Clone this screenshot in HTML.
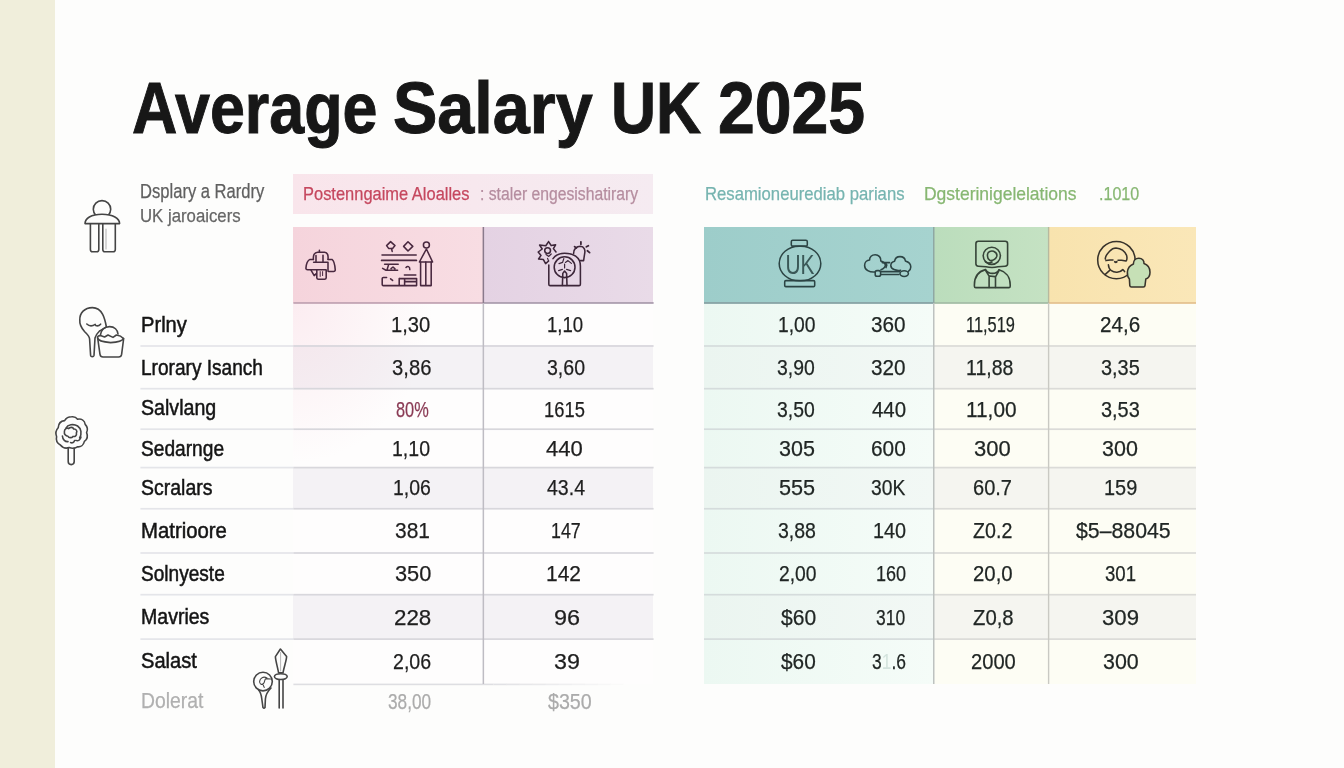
<!DOCTYPE html>
<html lang="en">
<head>
<meta charset="utf-8">
<title>Average Salary UK 2025</title>
<style>
html,body{margin:0;padding:0}
body{width:1344px;height:768px;overflow:hidden;position:relative;background:#fdfdfc;font-family:"Liberation Sans",sans-serif}
h1{margin:0;font:inherit}
.b{position:absolute}
.t{position:absolute;line-height:1;white-space:pre;transform-origin:0 0}
.ln{position:absolute;height:1.5px;background:#d6d9df}
svg.ic{position:absolute;left:0;top:0;width:1344px;height:768px;overflow:visible}
</style>
</head>
<body>
<!-- left beige strip -->
<div class="b" style="left:0;top:0;width:55px;height:768px;background:#f0eedb"></div>

<!-- left table backgrounds -->
<div class="b" style="left:293px;top:174px;width:360px;height:40px;background:linear-gradient(90deg,#f9e5eb,#f5ebf1)"></div>
<div class="b" style="left:293px;top:227px;width:190px;height:76px;background:linear-gradient(90deg,#f5d4dc,#f8dde3)"></div>
<div class="b" style="left:483px;top:227px;width:170px;height:76px;background:linear-gradient(90deg,#e4d2e3,#e9dbe8)"></div>
<div class="b" style="left:293px;top:303px;width:360px;height:381px;background:#fefdfd"></div>
<div class="b" style="left:293px;top:345px;width:360px;height:43px;background:#f4f2f5"></div>
<div class="b" style="left:293px;top:467px;width:360px;height:42px;background:#f4f2f5"></div>
<div class="b" style="left:293px;top:594px;width:360px;height:45px;background:#f4f2f5"></div>

<div class="b" style="left:293px;top:303px;width:190px;height:170px;background:radial-gradient(ellipse 140px 160px at 0 0,rgba(246,198,212,.3),rgba(246,198,212,0))"></div>

<!-- right table backgrounds -->
<div class="b" style="left:704px;top:227px;width:230px;height:76px;background:linear-gradient(90deg,#9dcdca,#a6d3cf)"></div>
<div class="b" style="left:934px;top:227px;width:115px;height:76px;background:linear-gradient(90deg,#bbddbc,#c5e2c3)"></div>
<div class="b" style="left:1049px;top:227px;width:147px;height:76px;background:linear-gradient(90deg,#f8e3ae,#fae7b8)"></div>
<div class="b" style="left:704px;top:303px;width:230px;height:381px;background:linear-gradient(90deg,#ecf8f2,#f5fcf8)"></div>
<div class="b" style="left:934px;top:303px;width:262px;height:381px;background:#fdfdf4"></div>
<div class="b" style="left:704px;top:345px;width:230px;height:43px;background:linear-gradient(90deg,#ebf5f0,#f2f8f5)"></div>
<div class="b" style="left:704px;top:467px;width:230px;height:42px;background:linear-gradient(90deg,#ebf5f0,#f2f8f5)"></div>
<div class="b" style="left:704px;top:594px;width:230px;height:45px;background:linear-gradient(90deg,#ebf5f0,#f2f8f5)"></div>
<div class="b" style="left:934px;top:345px;width:262px;height:43px;background:#f5f5f0"></div>
<div class="b" style="left:934px;top:467px;width:262px;height:42px;background:#f5f5f0"></div>
<div class="b" style="left:934px;top:594px;width:262px;height:45px;background:#f5f5f0"></div>

<!-- row lines -->
<svg class="ic" viewBox="0 0 1344 768">
<rect x="140.4" y="345.15" width="153" height="1.7" fill="#e4e5e9" />
<rect x="293.4" y="345.15" width="360.2" height="1.7" fill="#d8d7dc" />
<rect x="704" y="345.15" width="229.5" height="1.7" fill="#d5dcdc" />
<rect x="933.5" y="345.15" width="262.5" height="1.7" fill="#dbdbd8" />
<rect x="140.4" y="387.85" width="153" height="1.7" fill="#e4e5e9" />
<rect x="293.4" y="387.85" width="360.2" height="1.7" fill="#d8d7dc" />
<rect x="704" y="387.85" width="229.5" height="1.7" fill="#d5dcdc" />
<rect x="933.5" y="387.85" width="262.5" height="1.7" fill="#dbdbd8" />
<rect x="140.4" y="428.35" width="153" height="1.7" fill="#e4e5e9" />
<rect x="293.4" y="428.35" width="360.2" height="1.7" fill="#d8d7dc" />
<rect x="704" y="428.35" width="229.5" height="1.7" fill="#d5dcdc" />
<rect x="933.5" y="428.35" width="262.5" height="1.7" fill="#dbdbd8" />
<rect x="140.4" y="466.75" width="153" height="1.7" fill="#e4e5e9" />
<rect x="293.4" y="466.75" width="360.2" height="1.7" fill="#d8d7dc" />
<rect x="704" y="466.75" width="229.5" height="1.7" fill="#d5dcdc" />
<rect x="933.5" y="466.75" width="262.5" height="1.7" fill="#dbdbd8" />
<rect x="140.4" y="507.90" width="153" height="1.7" fill="#e4e5e9" />
<rect x="293.4" y="507.90" width="360.2" height="1.7" fill="#d8d7dc" />
<rect x="704" y="507.90" width="229.5" height="1.7" fill="#d5dcdc" />
<rect x="933.5" y="507.90" width="262.5" height="1.7" fill="#dbdbd8" />
<rect x="140.4" y="552.15" width="153" height="1.7" fill="#e4e5e9" />
<rect x="293.4" y="552.15" width="360.2" height="1.7" fill="#d8d7dc" />
<rect x="704" y="552.15" width="229.5" height="1.7" fill="#d5dcdc" />
<rect x="933.5" y="552.15" width="262.5" height="1.7" fill="#dbdbd8" />
<rect x="140.4" y="593.85" width="153" height="1.7" fill="#e4e5e9" />
<rect x="293.4" y="593.85" width="360.2" height="1.7" fill="#d8d7dc" />
<rect x="704" y="593.85" width="229.5" height="1.7" fill="#d5dcdc" />
<rect x="933.5" y="593.85" width="262.5" height="1.7" fill="#dbdbd8" />
<rect x="140.4" y="638.25" width="153" height="1.7" fill="#e4e5e9" />
<rect x="293.4" y="638.25" width="360.2" height="1.7" fill="#d8d7dc" />
<rect x="704" y="638.25" width="229.5" height="1.7" fill="#d5dcdc" />
<rect x="933.5" y="638.25" width="262.5" height="1.7" fill="#dbdbd8" />
<rect x="293.4" y="683.60" width="200" height="1.6" fill="#dedee2" />
<rect x="493.4" y="683.60" width="13.2" height="1.6" fill="#dedee2" opacity="0.91"/>
<rect x="506.4" y="683.60" width="13.2" height="1.6" fill="#dedee2" opacity="0.82"/>
<rect x="519.4" y="683.60" width="13.2" height="1.6" fill="#dedee2" opacity="0.73"/>
<rect x="532.4" y="683.60" width="13.2" height="1.6" fill="#dedee2" opacity="0.64"/>
<rect x="545.4" y="683.60" width="13.2" height="1.6" fill="#dedee2" opacity="0.55"/>
<rect x="558.4" y="683.60" width="13.2" height="1.6" fill="#dedee2" opacity="0.45"/>
<rect x="571.4" y="683.60" width="13.2" height="1.6" fill="#dedee2" opacity="0.36"/>
<rect x="584.4" y="683.60" width="13.2" height="1.6" fill="#dedee2" opacity="0.27"/>
<rect x="597.4" y="683.60" width="13.2" height="1.6" fill="#dedee2" opacity="0.18"/>
<rect x="610.4" y="683.60" width="13.2" height="1.6" fill="#dedee2" opacity="0.09"/>
<rect x="293.4" y="302.00" width="189.6" height="1.9" fill="#c6a8b7" />
<rect x="483" y="302.00" width="170.6" height="1.9" fill="#b0a2b3" />
<rect x="704" y="302.00" width="229.5" height="1.9" fill="#8aa6a8" />
<rect x="933.5" y="302.00" width="115" height="1.9" fill="#a7c0a9" />
<rect x="1048.5" y="302.00" width="147.5" height="1.9" fill="#e6c594" />
<rect x="482.6" y="227.00" width="1.5" height="76" fill="#8a7a8c" />
<rect x="482.6" y="303.00" width="1.5" height="381" fill="#bebcc3" />
<rect x="933.0" y="227.00" width="1.5" height="76" fill="#8fa8a3" />
<rect x="933.0" y="303.00" width="1.5" height="381" fill="#bdc2c0" />
<rect x="1047.9" y="227.00" width="1.4" height="76" fill="#b7b99f" />
<rect x="1047.9" y="303.00" width="1.4" height="381" fill="#c9c9c3" />
</svg>

<svg class="ic" viewBox="0 0 1344 768" fill="none" stroke-linecap="round" stroke-linejoin="round">
<!-- person (caption) -->
<g stroke="#444" stroke-width="1.6">
<circle cx="102" cy="209.3" r="8.7"/>
<path d="M85 223.6 C85 218.5 91 214.3 102 214.3 C113 214.3 119.6 218.5 119.6 223.6 Z" fill="#fdfdfc"/>
<path d="M90.4 223.8 V249.5 Q90.4 251.8 92.6 251.8 H96.6 Q98.8 251.8 98.8 249.5 V223.8"/>
<path d="M102.8 223.8 V249.5 Q102.8 251.8 105 251.8 H113 Q115.3 251.8 115.3 249.5 V223.8"/>
<path d="M106 229 V249" stroke="#bdbdbd" stroke-width="1.2"/>
</g>
<!-- balloon + cup -->
<g stroke="#454545" stroke-width="1.6">
<path d="M92.4 307.6 C84.5 307.6 79.6 313 79.8 320 C79.4 324.5 81 327.5 84.5 331.5 C87.5 334.5 89.4 336 89.6 339 L90.6 355.4 Q90.8 356.6 92.2 356.6 Q93.8 356.6 94 355.4 L95 338 C95.6 335 97.5 333 99.5 331 C103 329 105 327.5 106.4 327 C105 319 102.5 307.6 92.4 307.6 Z"/>
<path d="M86.8 324 Q90.5 327.4 95.2 324.4 M95.8 325.6 Q98.4 326.6 100.6 324.2"/>
<path d="M100.4 335.2 C101 330 104.5 326.6 109.6 326.6 C114.5 326.6 117.6 329.8 118 334"/>
<path d="M97.6 338 Q97.4 335.6 100.4 335.6 L104.6 337 L108 335 L113 337.4 L116.4 335 Q121 335.6 123.4 338.4"/>
<path d="M97.6 338 Q98.2 341.6 110.6 342.6 Q122 342 123.6 338.4"/>
<path d="M97.8 339 L100 354.4 Q100.4 357 103 357 H118.6 Q121.2 357 121.6 354.4 L123.6 339"/>
</g>
<!-- tree -->
<g stroke="#454545" stroke-width="1.6">
<path d="M71.6 416.8 C74.5 416.4 76.4 417.6 77.6 419.2 C81.6 418.6 84.6 420.8 85.2 424.4 C87.4 426.8 87.8 430.2 86.6 432.6 C88 436 87 439.6 84.4 441.4 C83.6 445 80.6 447.2 77.4 446.8 C75 448.4 71.4 448.4 69.2 447.6 C66 448.6 62.4 447.6 60.4 445 C57.4 443.4 55.8 440 56.6 436.8 C55.4 433.6 56 430 58.2 427.8 C58.4 424 60.8 421 64.6 420.6 C66.2 418 68.8 416.8 71.6 416.8 Z"/>
<path d="M68.2 448 V461.6 Q68.2 464.6 71.2 464.6 Q74.2 464.6 74.2 461.6 V448"/>
<path d="M66 428 C67.6 424.6 73.4 423.4 77.6 426 C81.4 428.6 82 434 79.6 438 M62.4 436 C62.6 439.6 65.4 442 68 441.6 M70.6 442.6 C72.4 443.4 74 442.4 74.6 440.6 M76 440.4 C78 441.4 80.6 439.6 81 437" />
<path d="M64.4 431.6 C64.4 428.8 67 427.4 68.8 428.6 C69.8 427 73 426.8 73.6 429 C76 428.6 77.6 431 76.4 433 C77 435.4 75 437 73 436.4 C71.6 438.2 68.8 438 68 436.2 C65.6 436.2 64 434 64.4 431.6 Z"/>
</g>
<!-- pin + spear -->
<g stroke="#454545" stroke-width="1.6">
<circle cx="263" cy="681.6" r="9.3"/>
<path d="M258.6 690 C260.4 692 261.4 695 261.8 699 L263 707.6 Q264 708.8 265 707.6 L265.4 699 C265.6 695 266.6 692.4 271 688"/>
<path d="M267 678 C263.4 676 260 678 259.6 681.4 C259.4 684.2 262 685.4 263.6 683.4 C265 681.6 264.4 679 266 678.6 L270.6 679 M262.8 684 L264.2 687.4" stroke-width="1.1"/>
<path d="M280.4 649 L275.4 656.6 C275.4 660 277.4 666.4 278.6 672.8 H283 C284.2 666.4 286.6 660 286.6 656.6 Z"/>
<path d="M280.6 652.4 V671" stroke="#b5b5b5" stroke-width="1"/>
<ellipse cx="280.8" cy="676.6" rx="6.4" ry="2.9"/>
<path d="M279.2 680.4 V708 M283 680.4 V708"/>
</g>

<!-- header icon A: printer cross -->
<g stroke="#48283f" stroke-width="1.55">
<path d="M319.4 250.2 V252.2 M313.4 259.4 C313 255 314.6 252.4 317.6 252.2 H324.6 C327.6 252.4 328.4 255.4 328 259.4"/>
<path d="M316 261.6 V255.4 M323 261.6 V255.2"/>
<path d="M313.4 259.4 H310 C307.4 260.4 306.2 264.4 305.9 268.4 Q306 269.8 307.6 269.8 H326"/>
<path d="M313.6 262.2 H328 V271.2 M328.2 259.4 H332 C334 260.6 335 266 335.3 270.2 Q335 271.5 333.6 271.5 H328.4"/>
<path d="M311 270.2 L314.2 275.6 L316.6 273.4 M316.8 270.2 V277.8 Q317 279.2 318.4 279.2 H324.6 Q326 279.2 326.2 277.8 V270.2"/>
<path d="M320.2 271.6 V276.4 M322.6 271.6 V275.6" stroke-width="1"/>
</g>
<!-- header icon B: shelves + tower -->
<g stroke="#48283f" stroke-width="1.55">
<path d="M390.6 241.6 L395 245.6 L392.6 248.4 H388.6 L386.6 245.6 Z M391.4 248.4 L392.2 251.4"/>
<path d="M408 241.8 L412.8 246.4 L408 251 L403.6 246.4 Z"/>
<circle cx="426.4" cy="244.9" r="3"/>
<path d="M426.4 249 L432.6 262 H419.4 Z"/>
<path d="M420.6 262 V285.6 H431.2 V262 M425.8 262 V285.6"/>
<path d="M382 254.9 H416.2"/>
<path d="M381.6 260.4 H416.4" stroke-width="1.7"/>
<path d="M384.6 264.2 H398.2 M382.6 268.4 L386 270.2 H397.6 M388.6 264.6 L387 270 M391 268.6 L393 267 L395 268.8"/>
<path d="M406 267.4 C407.6 265.6 410 266.4 409.8 269.6" />
<path d="M386.6 277.4 H383.4 Q382.2 277.4 382.2 278.6 V284.4 Q382.2 285.6 383.4 285.6 H416.6 V278.6 H399.4 M399.2 278.6 V285.4 M404.4 275 H415.8 M405.4 281.6 H415.6 M404.6 279 V285.4"/>
<path d="M390.6 278.8 L392.6 280.4" />
</g>
<!-- header icon C: sun, arch-tree, bulb -->
<g stroke="#3c2639" stroke-width="1.55">
<path d="M548.8 265 V284.2 Q548.8 285.6 550.2 285.6 H579 Q580.4 285.6 580.4 284.2 V266 C580.4 257 573 253.2 564.6 253.2 C559.4 253.2 555.4 255.2 553 258.6"/>
<circle cx="564.6" cy="267.2" r="10.4"/>
<path d="M562.4 285.4 L562.8 273.4 L564.6 271 L566.6 273.4 L567 285.4"/>
<path d="M559 263.6 L562.6 262.4 L563.8 258.6 M565.4 262.4 L568 260.6 L571.4 263.4 M558.6 270.6 L562.4 269.4 M566.6 269.4 L570.6 270.6 M564.6 264 V268" stroke-width="1.2"/>
<path d="M548.6 241.6 L551.2 245.6 L555.6 244.8 L553.4 248.6 L556 252 M548.6 241.6 L545.8 245.8 L539.6 245 L542.2 249 L538.2 252 L541 255.4 L538.6 259 L543.4 259.6 L545.6 263.6 L548.6 261"/>
<circle cx="547.6" cy="250.6" r="2.9"/>
<path d="M546 254.6 L548.8 256.4 L551.2 254 M547.6 258.4 L548.4 260.6" stroke-width="1.2"/>
<path d="M573.6 253.4 C573.6 249 576.6 246.2 580.4 246.2 C584 246.400 585.600 249.600 584.600 254.000 L583.6 260.6 H580.4"/>
<path d="M574.6 246.6 L576.4 248 M580.900 241.800 V244.2 M586.4 246.8 L588.4 245.8 M587.4 250.8 L589.6 252.6" stroke-width="1.8"/>
</g>
<!-- header icon D: jar -->
<g stroke="#2c4444" stroke-width="1.55">
<rect x="791.3" y="240.3" width="16" height="5.8" rx="1.4"/>
<rect x="779.2" y="246.2" width="41.6" height="34.6" rx="20" ry="17.3"/>
<rect x="784.7" y="280.6" width="30" height="6" rx="1.2"/>
</g>
<text x="785.4" y="273.6" font-family="'Liberation Sans',sans-serif" font-size="28" fill="#2f4a4a" fill-opacity="0.9" textLength="29" lengthAdjust="spacingAndGlyphs">UK</text>
<!-- header icon E: clouds -->
<g stroke="#2c4444" stroke-width="1.55">
<path d="M875 272 C869.6 272.6 864.6 270 864.6 265.4 C864.6 262.2 867 260.200 869.600 260.000 C869.400 257.000 871.800 254.800 875.200 254.800 C878.800 254.800 881.200 257.600 880.800 261.000 C883.000 261.600 885.000 263.000 885.400 265.200 C885.200 267.000 883.600 268.800 881.000 269.800"/>
<path d="M900.600 270.200 C896.000 271.000 891.000 269.200 890.800 265.600 C890.800 263.200 892.600 261.600 894.600 261.200 C895.000 258.600 897.200 256.600 900.000 256.600 C903.000 256.600 905.000 258.400 905.400 261.000 C908.600 262.000 910.800 264.400 910.800 267.000 C910.800 269.000 909.800 270.400 908.400 271.400"/>
<path d="M882.200 262.600 H889.600 M885.400 263.200 L886.800 265.000 L886.000 267.600" />
<rect x="875.200" y="270.600" width="5.400" height="5.600" rx="1.800"/>
<path d="M880.600 271.600 H899.600 M881.000 274.400 H899.000"/>
<ellipse cx="904.200" cy="273.600" rx="4.200" ry="2.800"/>
</g>
<!-- header icon F: monitor person -->
<g stroke="#364438" stroke-width="1.6">
<path d="M978.4 241.300 H1005.200 Q1007.600 241.300 1007.600 243.700 V264.000 Q1007.600 266.000 1005.000 266.200 L998.000 266.800 Q992.000 268.200 986.000 266.800 L978.400 266.200 Q975.900 266.000 975.900 263.800 V243.700 Q975.900 241.300 978.400 241.300 Z"/>
<circle cx="991.800" cy="255.800" r="8.600"/>
<path d="M987.600 254.000 C988.000 251.400 991.000 250.600 993.600 251.200 C996.000 252.200 997.400 254.400 996.600 256.800 C995.600 259.400 992.600 260.600 989.800 260.400 C988.000 259.200 987.200 256.400 987.600 254.000 Z M985.400 261.600 C987.400 263.000 990.000 263.400 992.000 262.000"/>
<path d="M985.400 269.600 C979.000 271.200 974.400 276.400 974.400 285.000 V286.200 Q974.400 287.600 975.800 287.600 H1008.800 Q1010.200 287.600 1010.200 286.200 V285.000 C1010.200 277.000 1005.600 271.600 999.000 269.800"/>
<path d="M985.600 269.600 C987.000 272.000 989.600 273.400 992.400 273.400 C995.400 273.400 998.000 272.000 999.000 269.800 M985.800 270.800 L989.100 276.200 V287.400 M999.000 270.600 L995.500 276.800 V287.400 M989.400 276.000 L995.200 276.600"/>
</g>
<!-- header icon G: face circle + figure -->
<g stroke="#38332b" stroke-width="1.55">
<circle cx="1116.400" cy="260.100" r="18.700"/>
<path d="M1105.400 259.000 C1104.600 256.600 1107.000 254.000 1109.600 251.200 C1112.000 248.600 1114.200 248.000 1116.000 248.000 C1121.000 248.400 1125.000 251.600 1126.600 255.400 C1127.200 257.600 1127.000 259.400 1126.400 260.600 M1106.000 260.600 L1110.000 260.000 H1113.000 M1118.000 260.200 H1121.600 L1126.000 261.000"/>
<path d="M1108.400 264.800 C1108.600 267.000 1109.400 269.400 1111.000 270.400 C1114.600 273.200 1119.600 273.000 1122.800 269.600 L1124.600 271.600 M1109.400 270.600 L1105.000 274.600"/>
<path d="M1114.800 261.800 Q1115.800 262.600 1116.800 261.800" stroke-width="1.8"/>
<path d="M1133.400 264.000 C1133.400 260.600 1135.600 258.200 1138.800 258.200 C1142.200 258.200 1144.200 260.400 1144.000 263.600 C1147.400 264.800 1150.000 267.800 1150.000 272.200 C1150.000 275.800 1148.400 278.200 1145.800 279.000 L1145.000 285.600 Q1144.800 287.000 1143.400 287.000 H1131.400 Q1130.000 287.000 1129.800 285.600 L1129.400 279.000 C1127.600 277.000 1127.200 274.600 1127.400 272.000 C1127.800 267.800 1130.400 265.200 1133.400 264.000 Z" fill="#c6e0b6"/>
</g>
</svg>


<h1>
<span class="t title" style="left:131.85px;top:72px;font-size:72.17px;font-weight:700;color:#171717;transform:scaleX(0.8698);-webkit-text-stroke:1.0px #171717;">Average</span>
<span class="t title" style="left:392.59px;top:72px;font-size:72.17px;font-weight:700;color:#171717;transform:scaleX(0.9219);-webkit-text-stroke:1.0px #171717;">Salary</span>
<span class="t title" style="left:610.79px;top:72px;font-size:72.17px;font-weight:700;color:#171717;transform:scaleX(0.8654);-webkit-text-stroke:1.0px #171717;">UK</span>
<span class="t title" style="left:717.67px;top:72px;font-size:72.17px;font-weight:700;color:#171717;transform:scaleX(0.9166);-webkit-text-stroke:1.0px #171717;">2025</span>
</h1>
<div class="cells">
<span class="t " style="left:139.60px;top:182px;font-size:19.71px;font-weight:400;color:#606060;transform:scaleX(0.8420);-webkit-text-stroke:0.25px #606060;">Dsplary a Rardry</span>
<span class="t " style="left:139.65px;top:206px;font-size:19.13px;font-weight:400;color:#666;transform:scaleX(0.8770);-webkit-text-stroke:0.25px #666;">UK jaroaicers</span>
<span class="t " style="left:302.99px;top:186px;font-size:17.83px;font-weight:400;color:#c5475e;transform:scaleX(0.9229);-webkit-text-stroke:0.25px #c5475e;">Postenngaime Aloalles</span>
<span class="t " style="left:480.14px;top:186px;font-size:17.54px;font-weight:400;color:#b58d9f;transform:scaleX(0.8961);-webkit-text-stroke:0.25px #b58d9f;">: staler engesishatirary</span>
<span class="t " style="left:705.19px;top:185px;font-size:18.55px;font-weight:400;color:#76b4b0;transform:scaleX(0.9008);-webkit-text-stroke:0.25px #76b4b0;">Resamioneurediab parians</span>
<span class="t " style="left:923.63px;top:185px;font-size:18.55px;font-weight:400;color:#87b772;transform:scaleX(0.9429);-webkit-text-stroke:0.25px #87b772;">Dgsterinigelelations</span>
<span class="t " style="left:1099.10px;top:185px;font-size:18.26px;font-weight:400;color:#87b772;transform:scaleX(0.8795);-webkit-text-stroke:0.25px #87b772;">.1010</span>
<span class="t lab" style="left:140.89px;top:314px;font-size:21.59px;font-weight:400;color:#141414;transform:scaleX(0.9331);-webkit-text-stroke:0.5px #141414;">Prlny</span>
<span class="t lab" style="left:140.96px;top:357px;font-size:21.59px;font-weight:400;color:#141414;transform:scaleX(0.8839);-webkit-text-stroke:0.5px #141414;">Lrorary Isanch</span>
<span class="t lab" style="left:141.43px;top:397px;font-size:21.59px;font-weight:400;color:#141414;transform:scaleX(0.9095);-webkit-text-stroke:0.5px #141414;">Salvlang</span>
<span class="t lab" style="left:141.44px;top:438px;font-size:21.59px;font-weight:400;color:#141414;transform:scaleX(0.8873);-webkit-text-stroke:0.5px #141414;">Sedarnge</span>
<span class="t lab" style="left:141.43px;top:477px;font-size:21.59px;font-weight:400;color:#141414;transform:scaleX(0.9031);-webkit-text-stroke:0.5px #141414;">Scralars</span>
<span class="t lab" style="left:140.88px;top:520px;font-size:21.59px;font-weight:400;color:#141414;transform:scaleX(0.9424);-webkit-text-stroke:0.5px #141414;">Matrioore</span>
<span class="t lab" style="left:141.45px;top:563px;font-size:21.59px;font-weight:400;color:#141414;transform:scaleX(0.8841);-webkit-text-stroke:0.5px #141414;">Solnyeste</span>
<span class="t lab" style="left:140.93px;top:606px;font-size:21.59px;font-weight:400;color:#141414;transform:scaleX(0.9054);-webkit-text-stroke:0.5px #141414;">Mavries</span>
<span class="t lab" style="left:141.41px;top:650px;font-size:21.59px;font-weight:400;color:#141414;transform:scaleX(0.9318);-webkit-text-stroke:0.5px #141414;">Salast</span>
<span class="t " style="left:140.80px;top:690px;font-size:21.16px;font-weight:400;color:#b0b0b0;transform:scaleX(0.9152);-webkit-text-stroke:0.25px #b0b0b0;">Dolerat</span>
<span class="t " style="left:391.32px;top:313px;font-size:22.9px;font-weight:400;color:#1e1e1e;transform:scaleX(0.8812);-webkit-text-stroke:0.25px #1e1e1e;">1,30</span>
<span class="t " style="left:391.88px;top:356px;font-size:22.9px;font-weight:400;color:#1e1e1e;transform:scaleX(0.8845);-webkit-text-stroke:0.25px #1e1e1e;">3,86</span>
<span class="t " style="left:395.54px;top:398px;font-size:22.9px;font-weight:400;color:#8a3b55;transform:scaleX(0.7152);-webkit-text-stroke:0.25px #8a3b55;">80%</span>
<span class="t " style="left:391.97px;top:437px;font-size:22.9px;font-weight:400;color:#1e1e1e;transform:scaleX(0.8527);-webkit-text-stroke:0.25px #1e1e1e;">1,10</span>
<span class="t " style="left:392.77px;top:476px;font-size:22.9px;font-weight:400;color:#1e1e1e;transform:scaleX(0.8502);-webkit-text-stroke:0.25px #1e1e1e;">1,06</span>
<span class="t " style="left:394.75px;top:519px;font-size:22.9px;font-weight:400;color:#1e1e1e;transform:scaleX(0.9150);-webkit-text-stroke:0.25px #1e1e1e;">381</span>
<span class="t " style="left:394.72px;top:562px;font-size:22.9px;font-weight:400;color:#1e1e1e;transform:scaleX(0.9521);-webkit-text-stroke:0.25px #1e1e1e;">350</span>
<span class="t " style="left:393.90px;top:606px;font-size:22.9px;font-weight:400;color:#1e1e1e;transform:scaleX(0.9764);-webkit-text-stroke:0.25px #1e1e1e;">228</span>
<span class="t " style="left:393.13px;top:650px;font-size:22.9px;font-weight:400;color:#1e1e1e;transform:scaleX(0.8557);-webkit-text-stroke:0.25px #1e1e1e;">2,06</span>
<span class="t " style="left:546.63px;top:313px;font-size:22.9px;font-weight:400;color:#1e1e1e;transform:scaleX(0.8123);-webkit-text-stroke:0.25px #1e1e1e;">1,10</span>
<span class="t " style="left:546.51px;top:356px;font-size:22.9px;font-weight:400;color:#1e1e1e;transform:scaleX(0.8541);-webkit-text-stroke:0.25px #1e1e1e;">3,60</span>
<span class="t " style="left:543.65px;top:398px;font-size:22.9px;font-weight:400;color:#1e1e1e;transform:scaleX(0.8019);-webkit-text-stroke:0.25px #1e1e1e;">1615</span>
<span class="t " style="left:546.01px;top:437px;font-size:22.9px;font-weight:400;color:#1e1e1e;transform:scaleX(0.9628);-webkit-text-stroke:0.25px #1e1e1e;">440</span>
<span class="t " style="left:546.96px;top:476px;font-size:22.9px;font-weight:400;color:#1e1e1e;transform:scaleX(0.8533);-webkit-text-stroke:0.25px #1e1e1e;">43.4</span>
<span class="t " style="left:550.98px;top:519px;font-size:22.9px;font-weight:400;color:#1e1e1e;transform:scaleX(0.7786);-webkit-text-stroke:0.25px #1e1e1e;">147</span>
<span class="t " style="left:546.47px;top:562px;font-size:22.9px;font-weight:400;color:#1e1e1e;transform:scaleX(0.9158);-webkit-text-stroke:0.25px #1e1e1e;">142</span>
<span class="t " style="left:553.96px;top:606px;font-size:22.9px;font-weight:400;color:#1e1e1e;transform:scaleX(1.0241);-webkit-text-stroke:0.25px #1e1e1e;">96</span>
<span class="t " style="left:554.15px;top:650px;font-size:22.9px;font-weight:400;color:#1e1e1e;transform:scaleX(1.0181);-webkit-text-stroke:0.25px #1e1e1e;">39</span>
<span class="t " style="left:388.29px;top:691px;font-size:22.03px;font-weight:400;color:#ababab;transform:scaleX(0.7827);-webkit-text-stroke:0.25px #ababab;">38,00</span>
<span class="t " style="left:547.65px;top:691px;font-size:22.03px;font-weight:400;color:#ababab;transform:scaleX(0.8931);-webkit-text-stroke:0.25px #ababab;">$350</span>
<span class="t " style="left:777.58px;top:313px;font-size:22.9px;font-weight:400;color:#202624;transform:scaleX(0.8432);-webkit-text-stroke:0.25px #202624;">1,00</span>
<span class="t " style="left:777.41px;top:356px;font-size:22.9px;font-weight:400;color:#202624;transform:scaleX(0.8471);-webkit-text-stroke:0.25px #202624;">3,90</span>
<span class="t " style="left:777.41px;top:398px;font-size:22.9px;font-weight:400;color:#202624;transform:scaleX(0.8471);-webkit-text-stroke:0.25px #202624;">3,50</span>
<span class="t " style="left:779.23px;top:437px;font-size:22.9px;font-weight:400;color:#202624;transform:scaleX(0.9401);-webkit-text-stroke:0.25px #202624;">305</span>
<span class="t " style="left:778.98px;top:476px;font-size:22.9px;font-weight:400;color:#202624;transform:scaleX(0.9467);-webkit-text-stroke:0.25px #202624;">555</span>
<span class="t " style="left:778.11px;top:519px;font-size:22.9px;font-weight:400;color:#202624;transform:scaleX(0.8513);-webkit-text-stroke:0.25px #202624;">3,88</span>
<span class="t " style="left:778.65px;top:562px;font-size:22.9px;font-weight:400;color:#202624;transform:scaleX(0.8417);-webkit-text-stroke:0.25px #202624;">2,00</span>
<span class="t " style="left:780.94px;top:606px;font-size:22.9px;font-weight:400;color:#202624;transform:scaleX(0.9195);-webkit-text-stroke:0.25px #202624;">$60</span>
<span class="t " style="left:781.34px;top:650px;font-size:22.9px;font-weight:400;color:#202624;transform:scaleX(0.9088);-webkit-text-stroke:0.25px #202624;">$60</span>
<span class="t " style="left:871.06px;top:313px;font-size:22.9px;font-weight:400;color:#202624;transform:scaleX(0.9056);-webkit-text-stroke:0.25px #202624;">360</span>
<span class="t " style="left:871.06px;top:356px;font-size:22.9px;font-weight:400;color:#202624;transform:scaleX(0.9056);-webkit-text-stroke:0.25px #202624;">320</span>
<span class="t " style="left:871.54px;top:398px;font-size:22.9px;font-weight:400;color:#202624;transform:scaleX(0.8927);-webkit-text-stroke:0.25px #202624;">440</span>
<span class="t " style="left:870.84px;top:437px;font-size:22.9px;font-weight:400;color:#202624;transform:scaleX(0.9115);-webkit-text-stroke:0.25px #202624;">600</span>
<span class="t " style="left:871.12px;top:476px;font-size:22.9px;font-weight:400;color:#202624;transform:scaleX(0.8426);-webkit-text-stroke:0.25px #202624;">30K</span>
<span class="t " style="left:872.55px;top:519px;font-size:22.9px;font-weight:400;color:#202624;transform:scaleX(0.8659);-webkit-text-stroke:0.25px #202624;">140</span>
<span class="t " style="left:875.87px;top:562px;font-size:22.9px;font-weight:400;color:#202624;transform:scaleX(0.7879);-webkit-text-stroke:0.25px #202624;">160</span>
<span class="t " style="left:876.39px;top:606px;font-size:22.9px;font-weight:400;color:#202624;transform:scaleX(0.7634);-webkit-text-stroke:0.25px #202624;">310</span>
<span class="t " style="left:872.19px;top:650px;font-size:22.9px;font-weight:400;color:#202624;transform:scaleX(0.7625);-webkit-text-stroke:0.25px #202624;">3<span style="color:#d3e3dd;-webkit-text-stroke:0">1</span>.6</span>
<span class="t " style="left:966.48px;top:313px;font-size:22.9px;font-weight:400;color:#202624;transform:scaleX(0.7164);-webkit-text-stroke:0.25px #202624;">11,519</span>
<span class="t " style="left:966.27px;top:356px;font-size:22.9px;font-weight:400;color:#202624;transform:scaleX(0.8508);-webkit-text-stroke:0.25px #202624;">11,88</span>
<span class="t " style="left:966.18px;top:398px;font-size:22.9px;font-weight:400;color:#202624;transform:scaleX(0.9096);-webkit-text-stroke:0.25px #202624;">11,00</span>
<span class="t " style="left:973.51px;top:437px;font-size:22.9px;font-weight:400;color:#202624;transform:scaleX(0.9604);-webkit-text-stroke:0.25px #202624;">300</span>
<span class="t " style="left:972.58px;top:476px;font-size:22.9px;font-weight:400;color:#202624;transform:scaleX(0.8757);-webkit-text-stroke:0.25px #202624;">60.7</span>
<span class="t " style="left:973.14px;top:519px;font-size:22.9px;font-weight:400;color:#202624;transform:scaleX(0.8588);-webkit-text-stroke:0.25px #202624;">Z0.2</span>
<span class="t " style="left:972.59px;top:562px;font-size:22.9px;font-weight:400;color:#202624;transform:scaleX(0.8911);-webkit-text-stroke:0.25px #202624;">20,0</span>
<span class="t " style="left:972.92px;top:606px;font-size:22.9px;font-weight:400;color:#202624;transform:scaleX(0.8867);-webkit-text-stroke:0.25px #202624;">Z0,8</span>
<span class="t " style="left:971.41px;top:650px;font-size:22.9px;font-weight:400;color:#202624;transform:scaleX(0.8798);-webkit-text-stroke:0.25px #202624;">2000</span>
<span class="t " style="left:1100.18px;top:313px;font-size:22.9px;font-weight:400;color:#202624;transform:scaleX(0.9028);-webkit-text-stroke:0.25px #202624;">24,6</span>
<span class="t " style="left:1101.19px;top:356px;font-size:22.9px;font-weight:400;color:#202624;transform:scaleX(0.8697);-webkit-text-stroke:0.25px #202624;">3,35</span>
<span class="t " style="left:1101.19px;top:398px;font-size:22.9px;font-weight:400;color:#202624;transform:scaleX(0.8703);-webkit-text-stroke:0.25px #202624;">3,53</span>
<span class="t " style="left:1102.33px;top:437px;font-size:22.9px;font-weight:400;color:#202624;transform:scaleX(0.9385);-webkit-text-stroke:0.25px #202624;">300</span>
<span class="t " style="left:1103.84px;top:476px;font-size:22.9px;font-weight:400;color:#202624;transform:scaleX(0.8700);-webkit-text-stroke:0.25px #202624;">159</span>
<span class="t " style="left:1075.83px;top:519px;font-size:22.9px;font-weight:400;color:#202624;transform:scaleX(0.9295);-webkit-text-stroke:0.25px #202624;">$5–88045</span>
<span class="t " style="left:1105.24px;top:562px;font-size:22.9px;font-weight:400;color:#202624;transform:scaleX(0.8134);-webkit-text-stroke:0.25px #202624;">301</span>
<span class="t " style="left:1101.50px;top:606px;font-size:22.9px;font-weight:400;color:#202624;transform:scaleX(0.9676);-webkit-text-stroke:0.25px #202624;">309</span>
<span class="t " style="left:1102.53px;top:650px;font-size:22.9px;font-weight:400;color:#202624;transform:scaleX(0.9357);-webkit-text-stroke:0.25px #202624;">300</span>
</div>
</body>
</html>
